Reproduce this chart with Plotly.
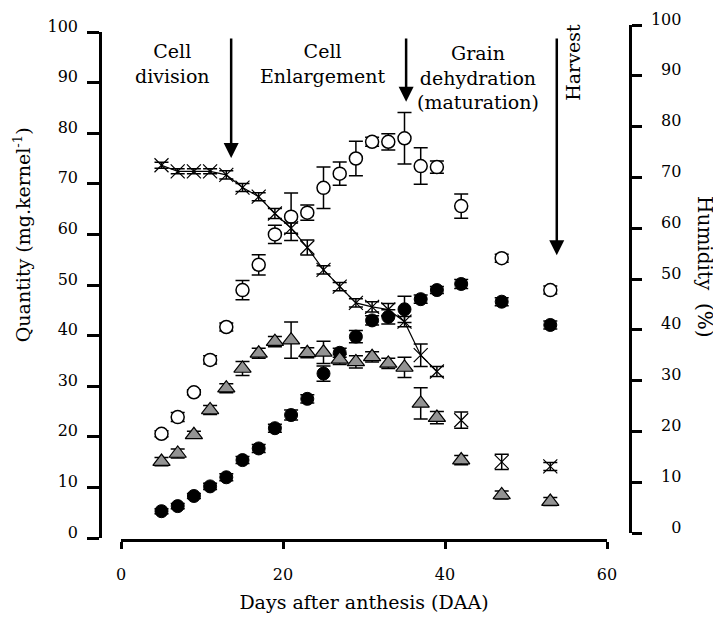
import plotly.graph_objects as go

# ---------------- data ----------------
days = [5, 7, 9, 11, 13, 15, 17, 19, 21, 23, 25, 27, 29, 31, 33, 35, 37, 39, 42, 47, 53]

open_circle = [20.6, 23.9, 28.8, 35.2, 41.7, 49.0, 54.0, 60.0, 63.5, 64.3, 69.2, 72.0,
               75.0, 78.3, 78.3, 79.0, 73.5, 73.3, 65.6, 55.3, 49.0]
open_circle_err = [0.6, 0.9, 0.5, 0.8, 0.8, 1.9, 2.0, 1.8, 4.7, 1.5, 4.1, 2.3,
                   3.4, 0.9, 1.6, 5.1, 3.6, 1.2, 2.4, 0.8, 0.8]

black_circle = [5.3, 6.3, 8.3, 10.2, 12.0, 15.4, 17.7, 21.7, 24.3, 27.5, 32.5, 36.6,
                39.8, 43.0, 43.7, 45.2, 47.2, 49.0, 50.2, 46.7, 42.1]
black_circle_err = [0.5, 0.5, 0.5, 0.6, 0.7, 0.7, 0.8, 0.8, 1.0, 0.8, 1.5, 0.9,
                    1.2, 0.9, 1.4, 2.6, 0.8, 0.7, 0.9, 0.8, 0.8]

triangle = [15.1, 16.7, 20.4, 25.3, 29.6, 33.5, 36.5, 38.8, 39.1, 36.6, 36.7, 35.3,
            34.8, 35.8, 34.5, 33.7, 26.6, 23.8, 15.4, 8.5, 7.2]
triangle_err = [0.8, 0.9, 0.7, 0.9, 0.9, 1.4, 1.0, 1.0, 3.6, 1.0, 2.2, 1.0,
                1.2, 1.0, 1.0, 2.0, 3.1, 1.2, 0.9, 0.8, 0.8]

humidity = [72.4, 71.2, 71.2, 71.2, 70.5, 68.0, 66.2, 62.9, 60.0, 56.2, 51.8, 48.5,
            45.3, 44.5, 44.0, 41.6, 35.0, 31.8, 22.2, 14.0, 13.1]
humidity_err = [0.6, 0.5, 0.5, 0.5, 0.8, 0.8, 0.8, 1.0, 1.0, 1.5, 0.8, 0.8,
                0.8, 1.0, 1.2, 1.0, 2.2, 1.0, 1.6, 1.5, 0.8]
n_connected = 18  # humidity points joined by a line (5..39 DAA)

x_ticks = [0, 20, 40, 60]
y_ticks = [0, 10, 20, 30, 40, 50, 60, 70, 80, 90, 100]

phase_arrow_days = [13.6, 35.2, 53.8]
phase_arrow_tip = [75.1, 86.2, 55.9]
phase_arrow_top = 99.0

FONT = "DejaVu Serif"

fig = go.Figure()

err_style = dict(type="data", color="black", thickness=1.5, width=7)

fig.add_trace(go.Scatter(
    x=days, y=open_circle, mode="markers",
    marker=dict(symbol="circle", size=13, color="white", line=dict(color="black", width=1.5)),
    error_y=dict(array=open_circle_err, **err_style),
    xaxis="x", yaxis="y", showlegend=False))

fig.add_trace(go.Scatter(
    x=days, y=black_circle, mode="markers",
    marker=dict(symbol="circle", size=13, color="black", line=dict(color="black", width=1)),
    error_y=dict(array=black_circle_err, **err_style),
    xaxis="x", yaxis="y", showlegend=False))

fig.add_trace(go.Scatter(
    x=days, y=triangle, mode="markers",
    marker=dict(symbol="triangle-up", size=15, color="#939393", line=dict(color="black", width=1.2)),
    error_y=dict(array=triangle_err, **err_style),
    xaxis="x", yaxis="y", showlegend=False))

fig.add_trace(go.Scatter(
    x=days[:n_connected], y=humidity[:n_connected], mode="lines+markers",
    line=dict(color="black", width=1.2),
    marker=dict(symbol="x-thin", size=14, color="black", line=dict(color="black", width=1.2)),
    error_y=dict(array=humidity_err[:n_connected], **err_style),
    xaxis="x", yaxis="y2", showlegend=False))

fig.add_trace(go.Scatter(
    x=days[n_connected:], y=humidity[n_connected:], mode="markers",
    marker=dict(symbol="x-thin", size=14, color="black", line=dict(color="black", width=1.2)),
    error_y=dict(array=humidity_err[n_connected:], **err_style),
    xaxis="x", yaxis="y2", showlegend=False))

# phase arrows
for d, tip in zip(phase_arrow_days, phase_arrow_tip):
    fig.add_annotation(x=d, y=tip, xref="x", yref="y", ax=d, ay=phase_arrow_top,
                       axref="x", ayref="y", text="", showarrow=True,
                       arrowhead=2, arrowsize=1.2, arrowwidth=2.5, arrowcolor="black",
                       standoff=0, startstandoff=0)

phase_font = dict(family=FONT, size=19, color="black")
fig.add_annotation(x=6.3, y=93.8, xref="x", yref="y", text="Cell<br>division",
                   showarrow=False, font=phase_font, align="center")
fig.add_annotation(x=24.9, y=93.8, xref="x", yref="y", text="Cell<br>Enlargement",
                   showarrow=False, font=phase_font, align="center")
fig.add_annotation(x=44.1, y=91.1, xref="x", yref="y", text="Grain<br>dehydration<br>(maturation)",
                   showarrow=False, font=phase_font, align="center")
fig.add_annotation(x=55.8, y=94.1, xref="x", yref="y", text="Harvest", textangle=-90,
                   showarrow=False, font=phase_font)

tick_font = dict(family=FONT, size=16, color="black")
title_font = dict(family=FONT, size=19, color="black")

# axis titles placed like the reference (left one sits above the middle,
# right one reads top-to-bottom)
fig.add_annotation(x=-0.147, y=0.592, xref="paper", yref="paper",
                   xanchor="center", yanchor="middle",
                   text="Quantity (mg.kernel<sup>-1</sup>)", textangle=-90, showarrow=False,
                   font=title_font)
fig.add_annotation(x=1.1415, y=0.53, xref="paper", yref="paper",
                   xanchor="center", yanchor="middle",
                   text="Humidity&nbsp;&nbsp;(%)", textangle=90, showarrow=False,
                   font=dict(family=FONT, size=20, color="black"))

axis_common = dict(showgrid=False, zeroline=False, showline=True, linecolor="black",
                   linewidth=2.5, ticks="outside", tickcolor="black", tickwidth=2.5,
                   tickfont=tick_font, automargin=False)

# page body adds an 8px offset, so the figure is 8px smaller than the window
fig.update_layout(
    width=713, height=615,
    margin=dict(l=92, r=91, t=17, b=83),
    paper_bgcolor="white", plot_bgcolor="rgba(0,0,0,0)",
    showlegend=False,
    xaxis=dict(domain=[21 / 530, 507 / 530], range=[0, 60], tickvals=x_ticks,
               anchor="free", position=0, ticklen=7, ticklabelstandoff=12,
               title=dict(text="Days after anthesis (DAA)", font=title_font, standoff=12),
               **axis_common),
    yaxis=dict(domain=[2 / 515, 508 / 515], range=[0, 100], tickvals=y_ticks,
               anchor="free", position=0, ticklen=12, ticklabelstandoff=6,
               ticklabelshift=-6,
               **axis_common),
    yaxis2=dict(domain=[7 / 515, 1.0], range=[0, 100], tickvals=y_ticks,
                ticktext=[("\u2007" * (3 - len(str(v)))) + str(v) for v in y_ticks],
                anchor="free", position=1, side="right", ticklen=10, ticklabelstandoff=6,
                ticklabelshift=-6,
                **axis_common),
)

fig.write_html("out.html")
